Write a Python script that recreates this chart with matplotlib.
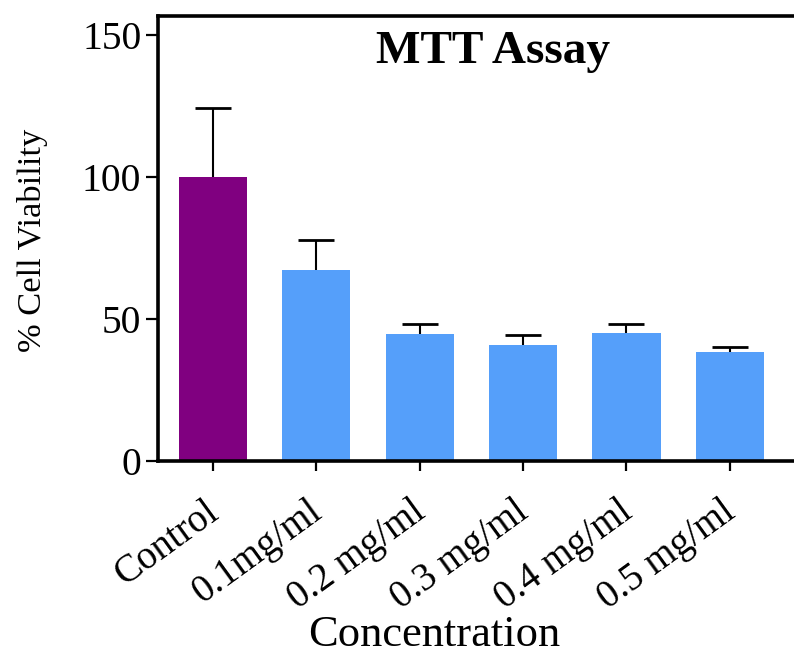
import numpy as np
import matplotlib.pyplot as plt
from matplotlib.transforms import ScaledTranslation

plt.rcParams['font.family'] = ['Liberation Serif', 'DejaVu Serif']

# データ
categories = ['Control', '0.1mg/ml', '0.2 mg/ml', '0.3 mg/ml', '0.4 mg/ml', '0.5 mg/ml']
viability = [100.0, 67.3, 44.7, 40.8, 45.1, 38.4]
err_upper = [24.3, 10.5, 3.5, 3.6, 3.1, 1.7]
bar_colors = ['#800080', '#559FFA', '#559FFA', '#559FFA', '#559FFA', '#559FFA']
y_ticks = [0, 50, 100, 150]

fig = plt.figure(figsize=(7.94, 6.55), dpi=100)
ax = fig.add_axes([0.199, 0.296, 0.801, 0.679])

x = np.arange(len(categories))
ax.bar(x, viability, width=0.66, color=bar_colors, zorder=2)
_, caps, _ = ax.errorbar(x, viability, yerr=[np.zeros(len(x)), err_upper], fmt='none',
                         ecolor='black', elinewidth=1.5, capsize=13, capthick=2, zorder=3)
caps[0].set_visible(False)  # 下側のキャップは描かない

ax.set_xlim(-0.53, 5.62)
ax.set_ylim(0, 156.4)
ax.set_yticks(y_ticks)
ax.set_xticks(x)
ax.set_xticklabels(categories, rotation=36, ha='right', va='top', rotation_mode='anchor')

for s in ['left', 'bottom', 'top']:
    ax.spines[s].set_linewidth(2.6)
ax.spines['right'].set_visible(False)

ax.tick_params(axis='y', labelsize=28.5, length=9, width=1.6, pad=3)
ax.tick_params(axis='x', labelsize=28, length=7, width=1.6, pad=16)

# ラベル位置の微調整
offset = ScaledTranslation(-6.5 / 72, 0, fig.dpi_scale_trans)
for lbl in ax.get_xticklabels():
    lbl.set_transform(lbl.get_transform() + offset)

fig.text(33 / 794, 1 - 240 / 655, '% Cell Viability', rotation=90, ha='center', va='center',
         fontsize=24.8)
fig.text(434 / 794, 1 - 646 / 655, 'Concentration', ha='center', va='baseline', fontsize=32)
ax.text(0.527, 0.896, 'MTT Assay', transform=ax.transAxes, ha='center', va='baseline',
        fontsize=34, fontweight='bold')

plt.savefig('out.png', dpi=100)
plt.close()
